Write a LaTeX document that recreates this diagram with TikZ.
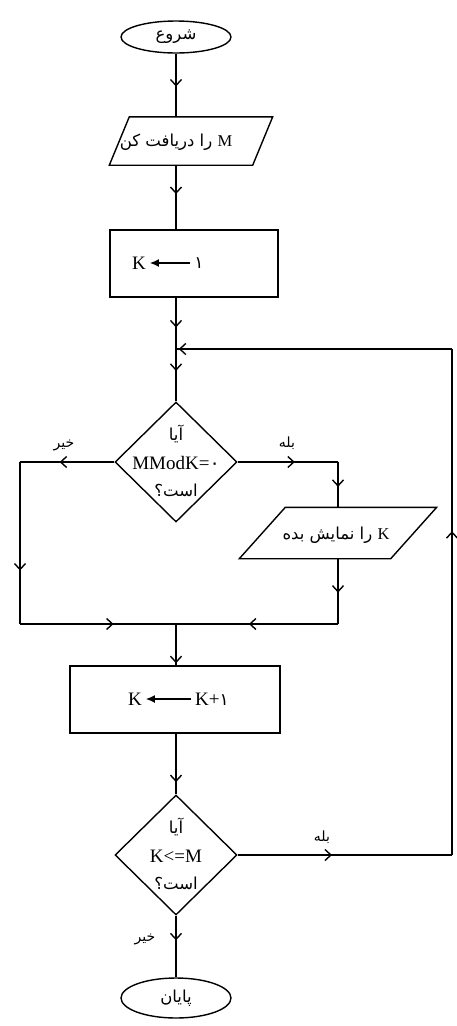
\documentclass[tikz,border=0pt]{standalone}
\usepackage{fontspec}
\setmainfont{Liberation Serif}
\newfontfamily\fa[Script=Arabic]{DejaVu Sans}
\TeXXeTstate=1
\usetikzlibrary{shapes.geometric,arrows.meta,decorations.markings,calc}
\newcommand\fat[1]{{\fa\fontsize{16.5}{22}\selectfont\beginR #1\endR}}
\newcommand\fal[1]{{\fa\fontsize{14}{17}\selectfont\beginR #1\endR}}
\begin{document}
\begin{tikzpicture}[x=1pt,y=-1pt,line width=1.4pt,
  every node/.style={font=\fontsize{19}{23}\selectfont},
  term/.style={draw,ellipse,minimum width=110,minimum height=32,inner sep=0},
  procbox/.style={draw,rectangle,inner sep=0},
  iobox/.style={rectangle,inner sep=0},
  decbox/.style={draw,diamond,minimum width=122,minimum height=120,inner sep=0},
  dectext/.style={align=center,inner sep=0},
  arrowat/.style={postaction={decorate},decoration={markings,mark=at position #1 with {\arrow{Straight Barb[length=6pt,width=11pt]}}}},
  small arrow/.style={-{Latex[length=9pt,width=8pt]},line width=1.3pt}
]
\useasboundingbox (0,0) rectangle (457,1026);

% nodes
\node[term] (start) at (176,37) {\fat{شروع}};
\node[iobox,minimum width=142,minimum height=47] (in1) at (191,141) {};
\node (in1t) at (176,142) {\fat{{\rmfamily M} را دریافت کن}};
\draw ($(in1.north west)+(10,0)$) -- ($(in1.north east)+(10,0)$) -- ($(in1.south east)+(-10,0)$) -- ($(in1.south west)+(-10,0)$) -- cycle;

\node[procbox,minimum width=168,minimum height=67] (init) at (194,263.5) {};
\node (k1) at (139,263) {K};
\node[font=\fa\fontsize{17}{20}\selectfont] (one1) at (199,263) {۱};
\draw[small arrow] (one1.west) -- (k1.east);

\coordinate (join1) at (176,349);
\node[decbox] (d1) at (176,462) {};
\node[dectext] (d1t) at (176,461) {\fat{آیا}\\[6pt]MModK={\fa ۰}\\[4pt]\fat{است؟}};

\coordinate (L1) at (20,462);
\coordinate (L2) at (20,624);
\coordinate (R1) at (338,462);
\coordinate (R2) at (338,624);
\coordinate (join2) at (176,624);

\node[iobox,minimum width=150,minimum height=50] (out1) at (338,533) {};
\node (out1t) at (336,535) {\fat{{\rmfamily K} را نمایش بده}};
\draw ($(out1.north west)+(23,0)$) -- ($(out1.north east)+(23,0)$) -- ($(out1.south east)+(-23,0)$) -- ($(out1.south west)+(-23,0)$) -- cycle;

\node[procbox,minimum width=210,minimum height=67] (inc) at (175,699.5) {};
\node (k2) at (135,699) {K};
\node (kp) at (212,699) {K+{\fa\fontsize{17}{20}\selectfont ۱}};
\draw[small arrow] (kp.west) -- (k2.east);

\node[decbox] (d2) at (176,855) {};
\node[dectext] (d2t) at (176,854) {\fat{آیا}\\[6pt]K<=M\\[4pt]\fat{است؟}};

\coordinate (B1) at (452,855);
\coordinate (B2) at (452,349);

\node[term,minimum height=40] (end) at (176,998) {\fat{پایان}};

% labels
\node (no1) at (64,445) {\fal{خیر}};
\node (yes1) at (287,443) {\fal{بله}};
\node (yes2) at (322,837) {\fal{بله}};
\node (no2) at (145,939) {\fal{خیر}};

% connectors
\draw[arrowat=0.52] (start.south) -- (start.south |- in1.north);
\draw[arrowat=0.45] (start.south |- in1.south) -- (start.south |- init.north);
\draw[arrowat=0.58] (start.south |- init.south) -- (join1);
\draw[arrowat=0.42] (join1) -- (d1.north);
\draw[arrowat=0.58] (d1.west) -- (L1);
\draw[arrowat=0.67] (L1) -- (L2);
\draw[arrowat=0.6] (L2) -- (join2);
\draw[arrowat=0.57] (d1.east) -- (R1);
\draw[arrowat=0.55] (R1) -- (out1.north);
\draw[arrowat=0.52] (out1.south) -- (R2);
\draw[arrowat=0.55] (R2) -- (join2);
\draw[arrowat=0.95] (join2) -- (join2 |- inc.north);
\draw[arrowat=0.8] (join2 |- inc.south) -- (d2.north);
\draw[arrowat=0.44] (d2.east) -- (B1);
\draw[arrowat=0.64] (B1) -- (B2);
\draw[arrowat=0.99] (B2) -- (join1);
\draw[arrowat=0.4] (d2.south) -- (end.north);
\end{tikzpicture}
\end{document}
